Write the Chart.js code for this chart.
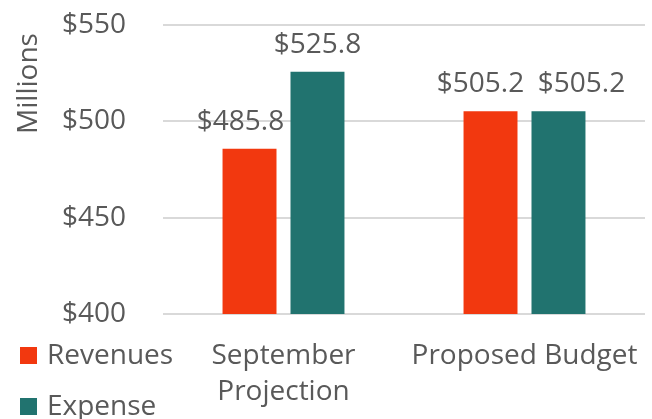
<!DOCTYPE html>
<html>
<head>
<meta charset="utf-8">
<script src="https://cdn.jsdelivr.net/npm/chart.js@4/dist/chart.umd.min.js"></script>
<style>
html,body{margin:0;padding:0;background:#fff;}
#wrap{width:652px;height:419px;position:relative;}
</style>
</head>
<body>
<div id="wrap"><canvas id="c" width="652" height="419"></canvas></div>
<script>
const categories = [["September","Projection"], "Proposed Budget"];
const seriesNames = ["Revenues", "Expense"];
const revenues = [485.8, 505.2];
const expense = [525.8, 505.2];
const yTicks = [400, 450, 500, 550];
const axisTitle = "Millions";
const colors = ["#F2380F", "#21736F"];

const FONT = "'Open Sans', sans-serif";
const TEXT = "#595959";
const SIZE = 28;
// horizontal nudges of value labels, per dataset, per category (style only)
const labelNudge = [[-9, -10], [0, 23]];

const labelsPlugin = {
  id: 'valueLabels',
  afterDatasetsDraw(chart) {
    const ctx = chart.ctx;
    ctx.save();
    ctx.font = SIZE + "px " + FONT;
    ctx.fillStyle = TEXT;
    ctx.textAlign = "center";
    ctx.textBaseline = "alphabetic";
    chart.data.datasets.forEach((ds, i) => {
      const meta = chart.getDatasetMeta(i);
      meta.data.forEach((bar, j) => {
        ctx.fillText("$" + ds.data[j].toFixed(1), bar.x + labelNudge[i][j], bar.y - 19);
      });
    });
    ctx.restore();
  }
};

const extrasPlugin = {
  id: 'extras',
  afterDraw(chart) {
    const ctx = chart.ctx;
    ctx.save();
    ctx.font = SIZE + "px " + FONT;
    // legend
    ctx.textBaseline = "middle";
    ctx.textAlign = "left";
    const ys = [355.5, 406.5];
    chart.data.datasets.forEach((ds, i) => {
      ctx.fillStyle = ds.backgroundColor;
      ctx.fillRect(20, ys[i] - 8.5, 17, 17);
      ctx.fillStyle = TEXT;
      ctx.fillText(ds.label, 47, ys[i] + 1);
    });
    // axis title
    ctx.translate(37, 83.5);
    ctx.rotate(-Math.PI / 2);
    ctx.textAlign = "center";
    ctx.textBaseline = "alphabetic";
    ctx.fillStyle = TEXT;
    ctx.fillText(axisTitle, 0, 0);
    ctx.restore();
  }
};

new Chart(document.getElementById('c'), {
  type: 'bar',
  data: {
    labels: categories,
    datasets: [
      { label: seriesNames[0], data: revenues, backgroundColor: colors[0] },
      { label: seriesNames[1], data: expense, backgroundColor: colors[1] }
    ]
  },
  options: {
    responsive: false,
    animation: false,
    devicePixelRatio: 1,
    layout: { padding: { top: 25, right: 7, left: 0, bottom: 0 } },
    plugins: { legend: { display: false }, tooltip: { enabled: false } },
    datasets: { bar: { categoryPercentage: 0.564, barPercentage: 0.794 } },
    scales: {
      x: {
        grid: { display: false },
        border: { display: false },
        ticks: {
          color: TEXT,
          font: { family: FONT, size: SIZE, lineHeight: 1.29 },
          padding: 16,
          maxRotation: 0,
          autoSkip: false
        },
        afterFit(s) { s.height = 105; s.paddingLeft = 0; s.paddingRight = 0; }
      },
      y: {
        min: 400, max: 550,
        afterBuildTicks(s) { s.ticks = yTicks.map(v => ({ value: v })); },
        grid: { color: "#D9D9D9", lineWidth: 2, drawTicks: false },
        border: { display: false },
        ticks: {
          color: TEXT,
          font: { family: FONT, size: SIZE },
          padding: 37,
          callback: v => "$" + v
        },
        afterFit(s) { s.width = 163; s.paddingTop = 0; s.paddingBottom = 0; }
      }
    }
  },
  plugins: [labelsPlugin, extrasPlugin]
});
</script>
</body>
</html>
